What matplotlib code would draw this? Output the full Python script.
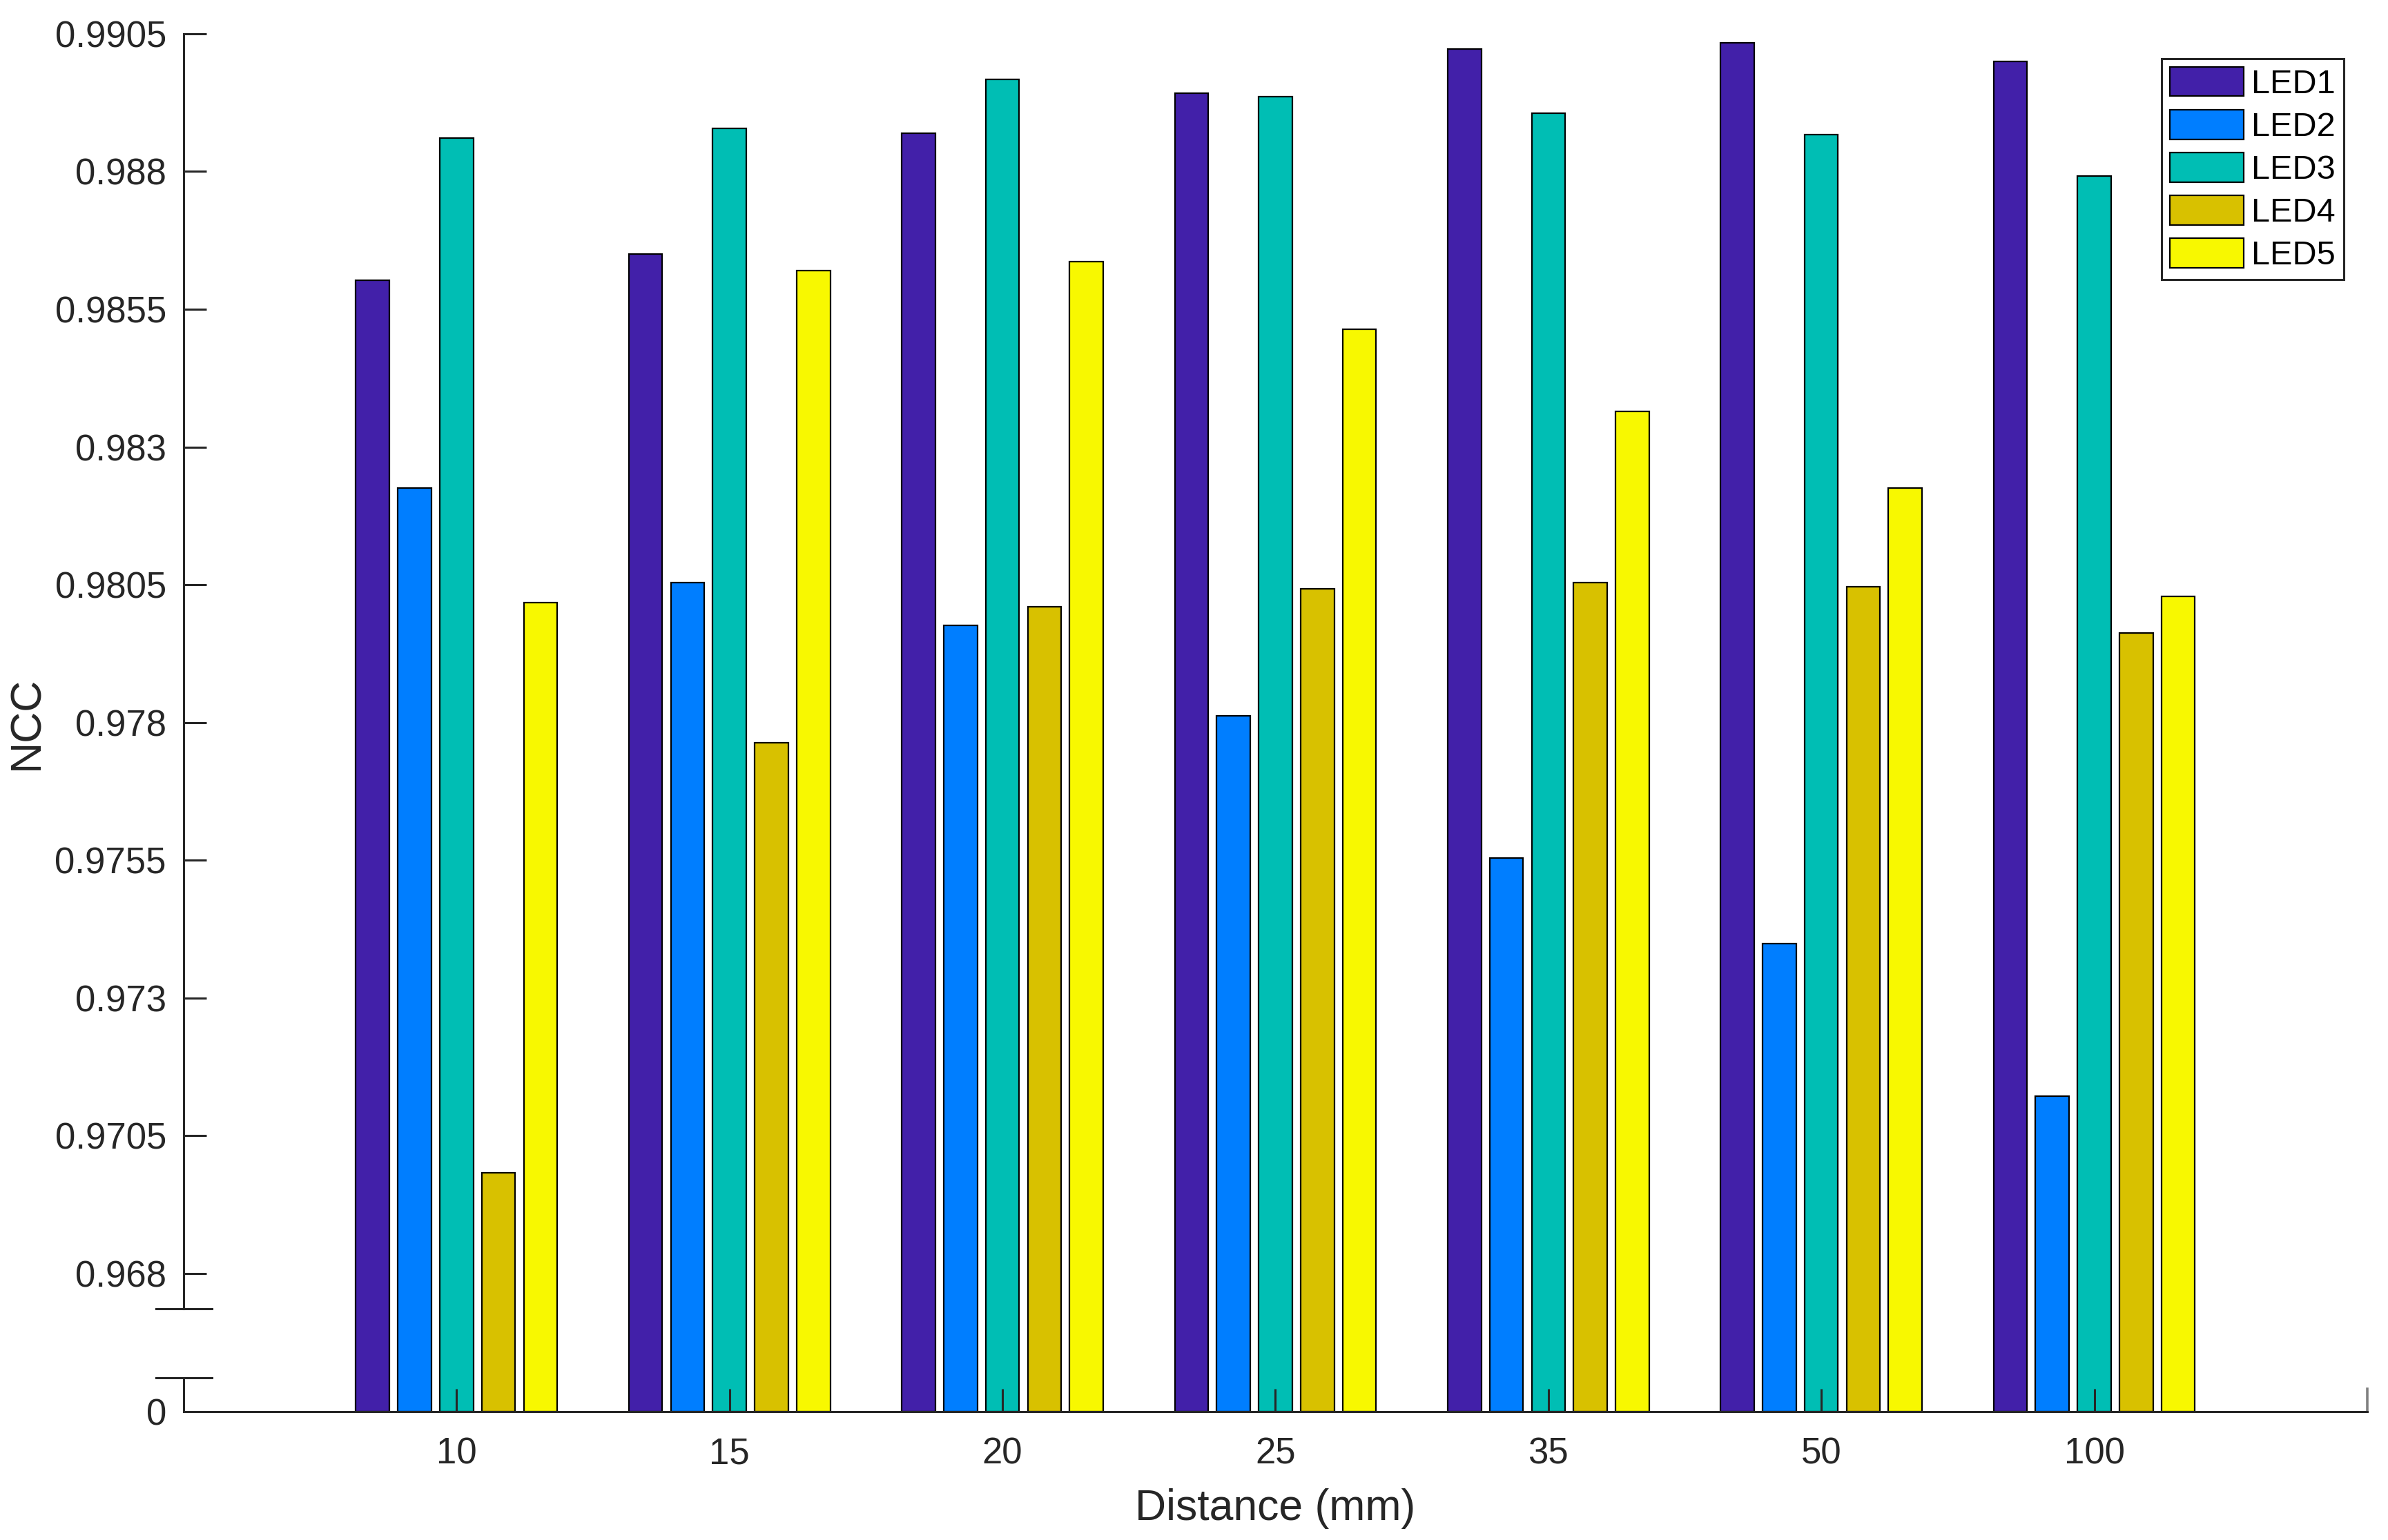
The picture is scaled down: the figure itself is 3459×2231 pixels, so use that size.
"""
Gráfica de barras agrupadas del NCC por distancia para cinco LEDs, con eje Y cortado.
"""
#-->Importar librerías
import numpy as np
import matplotlib
matplotlib.use("Agg")
import matplotlib.pyplot as plt

#-->Datos
distancias = ["10", "15", "20", "25", "35", "50", "100"]
leds = ["LED1", "LED2", "LED3", "LED4", "LED5"]
led1 = [0.98603, 0.98650, 0.98870, 0.98942, 0.99022, 0.99033, 0.99000]
led2 = [0.98226, 0.98054, 0.97976, 0.97812, 0.97554, 0.97399, 0.97122]
led3 = [0.98861, 0.98878, 0.98967, 0.98936, 0.98906, 0.98867, 0.98792]
led4 = [0.96983, 0.97763, 0.98010, 0.98043, 0.98054, 0.98046, 0.97962]
led5 = [0.98018, 0.98620, 0.98637, 0.98514, 0.98365, 0.98226, 0.98029]
yticks = [0, 0.968, 0.9705, 0.973, 0.9755, 0.978, 0.9805, 0.983, 0.9855, 0.988, 0.9905]

colores = ["#4220A9", "#007EFF", "#00BEB4", "#D8C100", "#F8F800"]
GRIS = "#262626"

#-->Eje Y cortado: el tramo 0..corte se comprime en una franja pequeña
Y_CORTE = 0.96736
TRAMO = 0.001867
HUECO = 0.001253


def adelante(y):
    y = np.asarray(y, dtype=float)
    return np.where(y >= Y_CORTE, y, Y_CORTE - (Y_CORTE - y) * TRAMO / Y_CORTE)


def inversa(t):
    t = np.asarray(t, dtype=float)
    return np.where(t >= Y_CORTE, t, Y_CORTE - (Y_CORTE - t) * Y_CORTE / TRAMO)


#-->Configuración de la figura
plt.rcParams["font.family"] = ["Liberation Sans", "DejaVu Sans"]
fig = plt.figure(figsize=(17.295, 11.155), dpi=200)
ax = fig.add_axes([0.0769, 0.0834, 0.9144, 0.8947])
ax.set_yscale("function", functions=(adelante, inversa))

#-->Barras agrupadas
series = [led1, led2, led3, led4, led5]
x = np.arange(1, len(distancias) + 1)
paso = 0.1538
ancho = 0.123
for i, (vals, color, nombre) in enumerate(zip(series, colores, leds)):
    ax.bar(x + (i - 2) * paso, vals, width=ancho, color=color,
           edgecolor="black", linewidth=0.8, label=nombre)

#-->Ejes y ticks
ax.set_xlim(0, 8)
ax.set_ylim(0, 0.9905)
ax.set_xticks(x)
ax.set_xticklabels(distancias)
ax.set_yticks(yticks)
ax.set_yticklabels([f"{t:g}" for t in yticks])
ax.tick_params(direction="in", length=12, width=1.1, colors=GRIS, labelsize=19)
ax.tick_params(axis="x", pad=13)
ax.tick_params(axis="y", pad=9)

for lado in ["top", "right"]:
    ax.spines[lado].set_visible(False)
for lado in ["left", "bottom"]:
    ax.spines[lado].set_color(GRIS)
    ax.spines[lado].set_linewidth(1.1)
ax.spines["left"].set_bounds(Y_CORTE, 0.9905)

#-->Marcas del corte en el eje Y
y_bajo = float(inversa(Y_CORTE - HUECO))
trans_y = ax.get_yaxis_transform()
ax.plot([0, 0], [0, y_bajo], transform=trans_y, color=GRIS, lw=1.1, clip_on=False)
for yc in [Y_CORTE, y_bajo]:
    ax.plot([-0.0126, 0.013], [yc, yc], transform=trans_y, color=GRIS,
            lw=1.1, clip_on=False)
ax.plot([1, 1], [0, 0.0165], transform=ax.transAxes, color="#808080",
        lw=1.3, clip_on=False)

#-->Etiquetas
ax.set_xlabel("Distance (mm)", fontsize=22.5, color=GRIS, labelpad=9)
ax.set_ylabel("NCC", fontsize=22.5, color=GRIS, labelpad=4)

#-->Leyenda
leg = ax.legend(loc="upper right", bbox_to_anchor=(0.9815, 0.962),
                bbox_transform=fig.transFigure, fontsize=17.5, frameon=True,
                fancybox=False, edgecolor=GRIS, framealpha=1, borderaxespad=0,
                handlelength=2.2, handleheight=0.97, handletextpad=0.22,
                labelspacing=0.29, borderpad=0.25)
leg.get_frame().set_linewidth(1.1)

fig.savefig("out.png", dpi=200)
